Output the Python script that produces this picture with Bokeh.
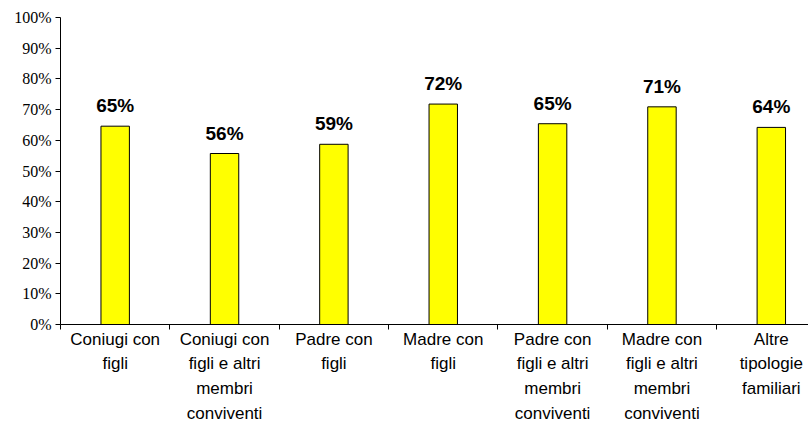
from bokeh.plotting import figure
from bokeh.models import ColumnDataSource, FixedTicker, Range1d, LabelSet
from bokeh.core.properties import value
from bokeh.embed import file_html
from bokeh.resources import INLINE

categories = [
    "Coniugi con\nfigli",
    "Coniugi con\nfigli e altri\nmembri\nconviventi",
    "Padre con\nfigli",
    "Madre con\nfigli",
    "Padre con\nfigli e altri\nmembri\nconviventi",
    "Madre con\nfigli e altri\nmembri\nconviventi",
    "Altre\ntipologie\nfamiliari",
]
values = [64.6, 55.7, 58.7, 71.8, 65.4, 70.9, 64.2]
value_labels = ["65%", "56%", "59%", "72%", "65%", "71%", "64%"]
y_ticks = [0, 10, 20, 30, 40, 50, 60, 70, 80, 90, 100]

xs = [i + 0.5 for i in range(len(categories))]
src = ColumnDataSource(dict(x=xs, top=values, lab=value_labels))

p = figure(width=808, height=425, output_backend="svg", toolbar_location=None,
           x_range=Range1d(0, 6.84), y_range=Range1d(0, 100))
p.min_border_left = 60
p.min_border_right = 0
p.min_border_top = 17
p.min_border_bottom = 101
p.outline_line_color = None
p.xgrid.visible = False
p.ygrid.visible = False

p.vbar(x="x", top="top", width=0.26, bottom=0, source=src,
       fill_color="#FFFF00", line_color="black", line_width=1)

labels = LabelSet(x="x", y="top", text="lab", source=src, text_align="center",
                  text_baseline="bottom", y_offset=10,
                  text_font=value("Liberation Sans"),
                  text_font_style="bold", text_font_size="19px", text_color="black")
p.add_layout(labels)

# x axis
p.xaxis.ticker = FixedTicker(ticks=xs, minor_ticks=list(range(0, 8)))
p.xaxis.major_label_overrides = {x: c for x, c in zip(xs, categories)}
p.xaxis.major_tick_out = 0
p.xaxis.major_tick_in = 0
p.xaxis.minor_tick_out = 5
p.xaxis.minor_tick_in = 0
p.xaxis.minor_tick_line_color = "black"
p.xaxis.axis_line_color = "black"
p.xaxis.major_label_text_font = "Liberation Sans"
p.xaxis.major_label_text_font_size = "17px"
p.xaxis.major_label_text_color = "black"
p.xaxis.major_label_text_line_height = 1.3
p.xaxis.major_label_standoff = 0

# y axis
p.yaxis.ticker = FixedTicker(ticks=y_ticks, minor_ticks=[])
p.yaxis.major_label_overrides = {t: f"{t}%" for t in y_ticks}
p.yaxis.major_tick_out = 5
p.yaxis.major_tick_in = 0
p.yaxis.major_tick_line_color = "black"
p.yaxis.axis_line_color = "black"
p.yaxis.major_label_text_font = "Liberation Serif"
p.yaxis.major_label_text_font_size = "16px"
p.yaxis.major_label_text_color = "black"
p.yaxis.major_label_standoff = 4

open("out.html", "w").write(file_html(p, INLINE))
